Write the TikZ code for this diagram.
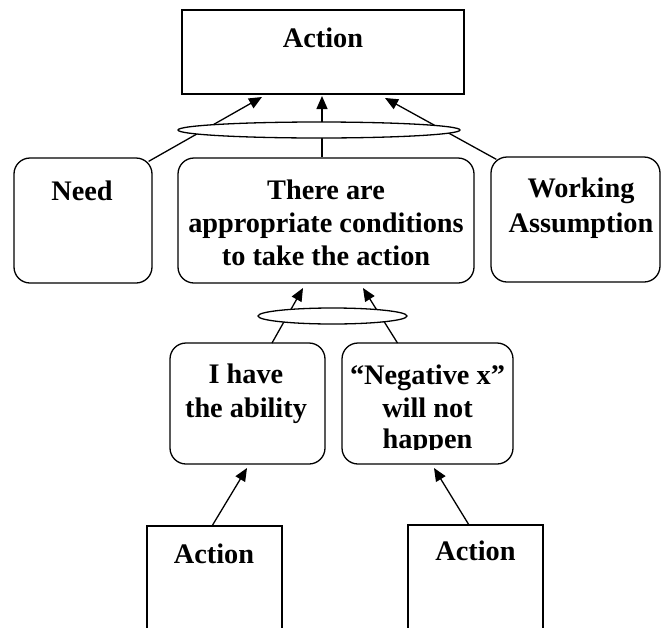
\documentclass[tikz,border=0pt]{standalone}
\usepackage{fontspec}
\setmainfont{Liberation Serif}
\usetikzlibrary{arrows.meta,shapes.geometric}
\begin{document}
\begin{tikzpicture}[x=1pt,y=-1pt,
  box/.style={draw, line width=1.3pt, inner sep=0pt, rectangle},
  rbox/.style={box, rounded corners=16pt},
  lbl/.style={font=\fontsize{28.3}{33}\selectfont\bfseries, align=center,
              inner sep=0pt, anchor=base},
  link/.style={line width=1.3pt},
  arr/.style={link, -{Triangle[length=13pt,width=11pt]}},
  ring/.style={draw, fill=white, line width=1.3pt, ellipse, inner sep=0pt}]
\useasboundingbox (0,0) rectangle (661,627);

% top action box
\node[box, minimum width=282pt, minimum height=84pt] (act) at (323,52) {};
\node[lbl] (actT) at (323,47) {Action};

% three supporting boxes (multi-line labels are placed by their last baseline)
\node[rbox, minimum width=138pt, minimum height=125pt] (need) at (83,220.5) {};
\node[lbl] (needT) at (82,200) {Need};
\node[rbox, minimum width=296pt, minimum height=125pt] (cond) at (326,220.5) {};
\node[lbl] (condT) at (326,265) {There are\\appropriate conditions\\to take the action};
\node[rbox, minimum width=169pt, minimum height=125pt] (work) at (575.5,219.5) {};
\node[lbl] (workT) at (581,232) {Working\\[2pt]Assumption};

% arrow tips on the action box
\coordinate (tL) at (262,97);
\coordinate (tM) at (322,96);
\coordinate (tR) at (385,98);
\draw[arr] (need.north east) ++(-4,4) coordinate (nC) -- (tL);
\draw[arr] (cond.north -| tM) -- (tM);
\draw[arr] (work.north west) ++(6,3) coordinate (wC) -- (tR);
\node[ring, minimum width=282pt, minimum height=16pt] (and1) at (319,130) {};

% second level
\node[rbox, minimum width=155pt, minimum height=121pt] (abil) at (247.5,403.5) {};
\node[lbl] (abilT) at (246,417) {I have\\[1pt]the ability};
\node[rbox, minimum width=171pt, minimum height=121pt] (negx) at (427.5,403.5) {};
\begin{scope}
  \clip (342,350) rectangle (513,449);
  \node[lbl] (negxT) at (427.5,448) {``Negative x''\\will not\\[-2pt]happen};
\end{scope}

\coordinate (bL) at (303,288);
\coordinate (bR) at (363,288);
\draw[arr] (272,343) coordinate (aC) -- (bL);
\draw[arr] (397.5,343) coordinate (xC) -- (bR);
\node[ring, minimum width=149pt, minimum height=16pt] (and2) at (332.5,316) {};

% bottom action boxes (run off the lower edge)
\node[box, minimum width=135pt, minimum height=114pt] (actA) at (214.5,583) {};
\node[lbl] (actAT) at (214,563) {Action};
\node[box, minimum width=135pt, minimum height=116pt] (actB) at (475.5,583) {};
\node[lbl] (actBT) at (475.5,560) {Action};

\draw[arr] (212,526) coordinate (pA) -- (247,468);
\draw[arr] (469,525) coordinate (pB) -- (434,468);
\end{tikzpicture}
\end{document}
